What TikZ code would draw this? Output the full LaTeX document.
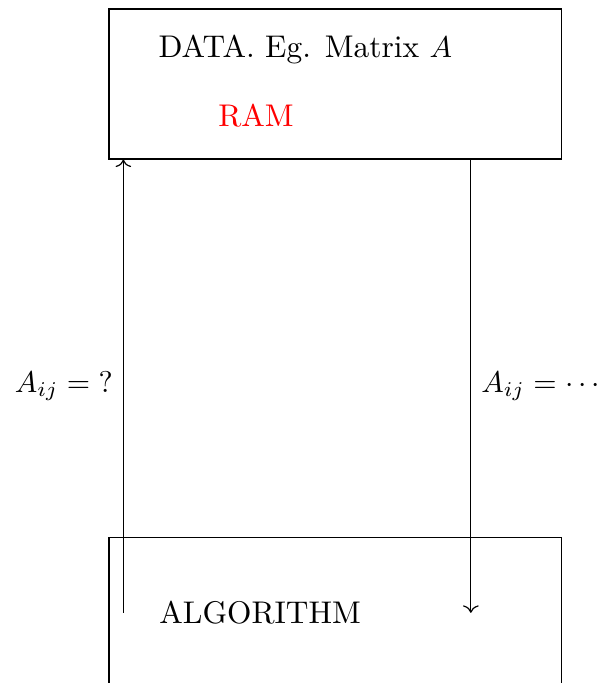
\documentclass[tikz,border=0pt]{standalone}
\usepackage{amsmath}
\usepackage{xcolor}
\usepackage{tikz}
\usetikzlibrary{positioning,arrows.meta}

\begin{document}
\begin{tikzpicture}[font=\fontsize{10.45pt}{12.5pt}\selectfont,
  mem/.style={draw, minimum width=5.304cm, minimum height=1.757cm, inner sep=0pt},
  lbl/.style={anchor=west, inner sep=0pt},
  arr/.style={->}]
\useasboundingbox (0,0) rectangle (7.084,-8.0);
\clip (0,0) rectangle (7.084,-8.0);
\node[mem] (data) at (3.928,-0.984) {};
\node[mem] (algo) at (3.928,-7.178) {};
\node[lbl] (datatxt) at (1.85,-0.585) {DATA. Eg. Matrix $A$};
\node[lbl, text=red] (ram) at (2.55,-1.35) {RAM};
\node[lbl] (algotxt) at (1.86,-7.178) {ALGORITHM};
\coordinate (ask) at (1.445,-7.178);
\coordinate (get) at (5.515,-7.178);
\draw[arr] (ask) -- (ask |- data.south) node[midway, left] {$A_{ij} = {?}$};
\draw[arr] (get |- data.south) -- (get) node[midway, right] {$A_{ij} = \cdots$};
\end{tikzpicture}
\end{document}
